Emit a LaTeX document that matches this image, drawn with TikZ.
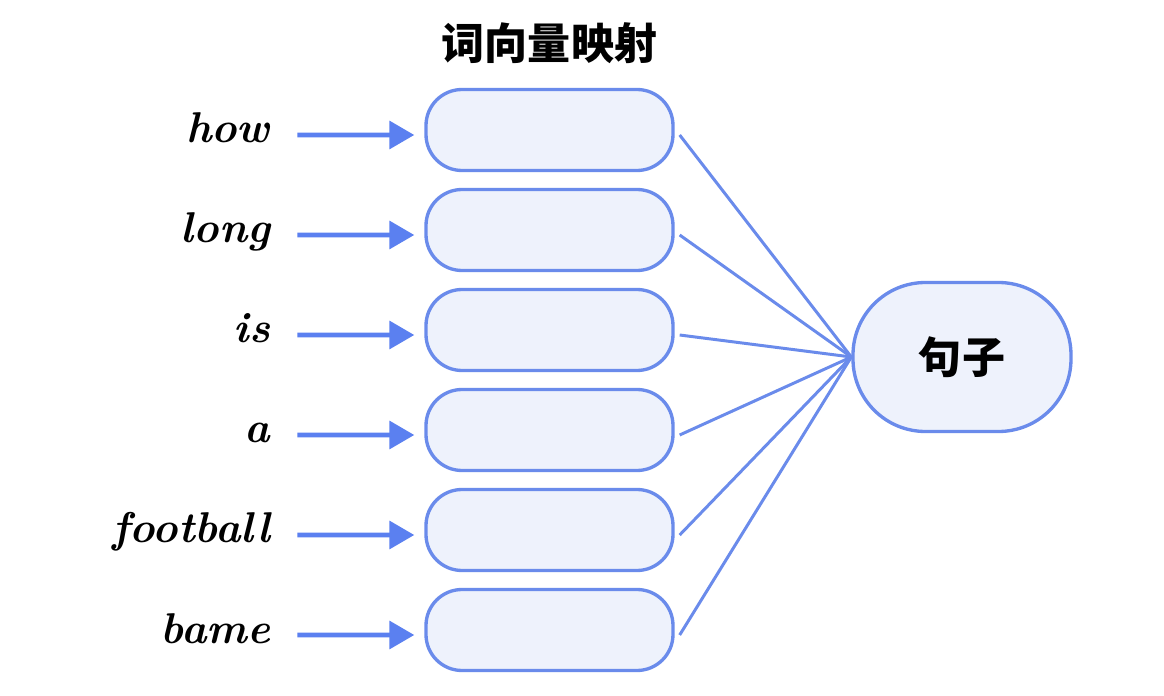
\documentclass[tikz,border=0pt]{standalone}
\usepackage{fontspec}
\usetikzlibrary{positioning,arrows.meta}
\newfontfamily\cjk{Noto Sans CJK SC}
\definecolor{vecblue}{HTML}{6A8BEB}
\definecolor{vecfill}{HTML}{EEF2FC}
\definecolor{arrblue}{HTML}{5B80F0}
\tikzset{every node/.style={font=\cjk\bfseries}}
\tikzset{vecbox/.style={draw=vecblue,fill=vecfill,line width=1.9pt,rounded corners=0.72cm,minimum width=4.94cm,minimum height=1.62cm}}
\tikzset{word/.style={font=\bfseries\itshape\fontsize{24.5}{24.5}\selectfont,inner sep=0pt,anchor=base east}}
\tikzset{feed/.style={draw=arrblue,line width=2.8pt,-{Triangle[length=0.5cm,width=0.55cm]}}}
\tikzset{link/.style={draw=vecblue,line width=1.7pt}}

\begin{document}
\begin{tikzpicture}[node distance=2cm]
\useasboundingbox (0,0) rectangle (23.28,-13.92);

\node[vecbox] at (10.99,-2.6) (vhow) {};
\node[vecbox] [below of=vhow] (vlong) {};
\node[vecbox] [below of=vlong] (vis) {};
\node[vecbox] [below of=vis] (va) {};
\node[vecbox] [below of=va] (vfootball) {};
\node[vecbox] [below of=vfootball] (vbame) {};

\node[font=\cjk\bfseries\fontsize{24.5}{24.5}\selectfont] [above=0.35cm of vhow] (title) {词向量映射};

\node[vecbox,minimum width=4.36cm,minimum height=2.98cm,rounded corners=1.45cm] at (19.24,-7.14) (sentence) {\fontsize{24.5}{24.5}\selectfont 句子};

\foreach \w in {how,long,is,a,football,bame}{
  \node[word] at ([xshift=-3.08cm,yshift=-0.26cm]v\w.west) (\w) {\w};
  \draw[feed] ([xshift=0.54cm,yshift=0.16cm]\w.base east) -- ([xshift=-0.2cm,yshift=-0.1cm]v\w.west);
  \draw[link] ([xshift=0.1cm,yshift=-0.1cm]v\w.east) -- (sentence.west);
}

\end{tikzpicture}
\end{document}
